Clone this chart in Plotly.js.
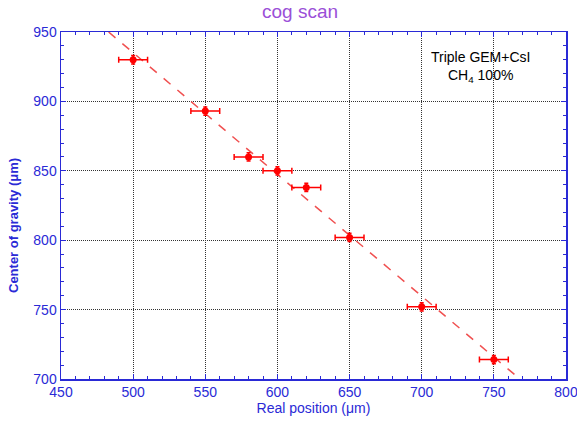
<!DOCTYPE html>
<html><head><meta charset="utf-8">
<script src="https://cdn.plot.ly/plotly-3.0.1.min.js"></script>
<style>html,body{margin:0;padding:0;background:#fff}#c{width:577px;height:422px}</style>
</head><body><div id="c"></div>
<script>
const realPos = [500, 550, 580, 600, 620, 650, 700, 750];
const cog = [930, 893, 860, 850, 838, 802, 752, 714];
const xErr = [10, 10, 10, 10, 10, 10, 10, 10];
const yErr = [3, 3, 3, 3, 3, 3, 3, 3];
const fitX = [483, 768];
const fitY = [950, 700];

const blue = '#2a2ad6';
const font = 'Liberation Sans, Arial, sans-serif';
const traces = [
  {x: fitX, y: fitY, mode: 'lines', line: {color: '#f05050', dash: 'dash', width: 1.5}, hoverinfo: 'skip'},
  {x: realPos, y: cog, mode: 'markers', marker: {color: '#ff0000', size: 7},
   error_x: {type: 'data', array: xErr, color: '#ff0000', thickness: 1.5, width: 3},
   error_y: {type: 'data', array: yErr, color: '#ff0000', thickness: 1.5, width: 2}}
];
const axBase = {
  showline: true, linecolor: blue, linewidth: 1.5, mirror: 'ticks',
  ticks: 'inside', ticklen: 5, tickcolor: blue,
  tickfont: {family: font, size: 14, color: blue},
  ticklabeloverflow: 'allow',
  showgrid: true, gridcolor: '#333', griddash: '1px,1px', gridwidth: 1,
  zeroline: false, automargin: false,
  minor: {ticks: 'inside', ticklen: 3, tickcolor: blue, showgrid: false}
};
const layout = {
  width: 577, height: 422,
  margin: {l: 61, r: 11, t: 32, b: 43},
  paper_bgcolor: '#fff', plot_bgcolor: '#fff',
  showlegend: false,
  title: {text: 'cog scan', x: 0.52, xanchor: 'center', y: 0.99, yanchor: 'top',
          font: {family: font, size: 19, color: '#9b4fd8'}},
  xaxis: Object.assign({}, axBase, {range: [450, 800], dtick: 50, tick0: 450,
          minor: Object.assign({}, axBase.minor, {dtick: 10}),
          title: {text: 'Real position (μm)', font: {family: font, size: 14, color: blue}, standoff: 2}}),
  yaxis: Object.assign({}, axBase, {range: [700, 950], dtick: 50, tick0: 700,
          minor: Object.assign({}, axBase.minor, {dtick: 10})}),
  annotations: [
    {xref: 'paper', yref: 'paper', x: -0.093, y: 0.441, xanchor: 'center', yanchor: 'middle',
     textangle: -90, text: '<b>Center of gravity (μm)</b>', showarrow: false,
     font: {family: font, size: 13, color: blue}},
    {xref: 'paper', yref: 'paper', x: 0.83, y: 0.928, yanchor: 'middle', text: 'Triple GEM+CsI', showarrow: false,
     font: {family: font, size: 14, color: '#000'}, xanchor: 'center'},
    {xref: 'paper', yref: 'paper', x: 0.83, y: 0.872, yanchor: 'middle', text: 'CH<sub>4</sub> 100%', showarrow: false,
     font: {family: font, size: 14, color: '#000'}, xanchor: 'center'}
  ]
};
Plotly.newPlot('c', traces, layout, {staticPlot: true});
</script></body></html>
